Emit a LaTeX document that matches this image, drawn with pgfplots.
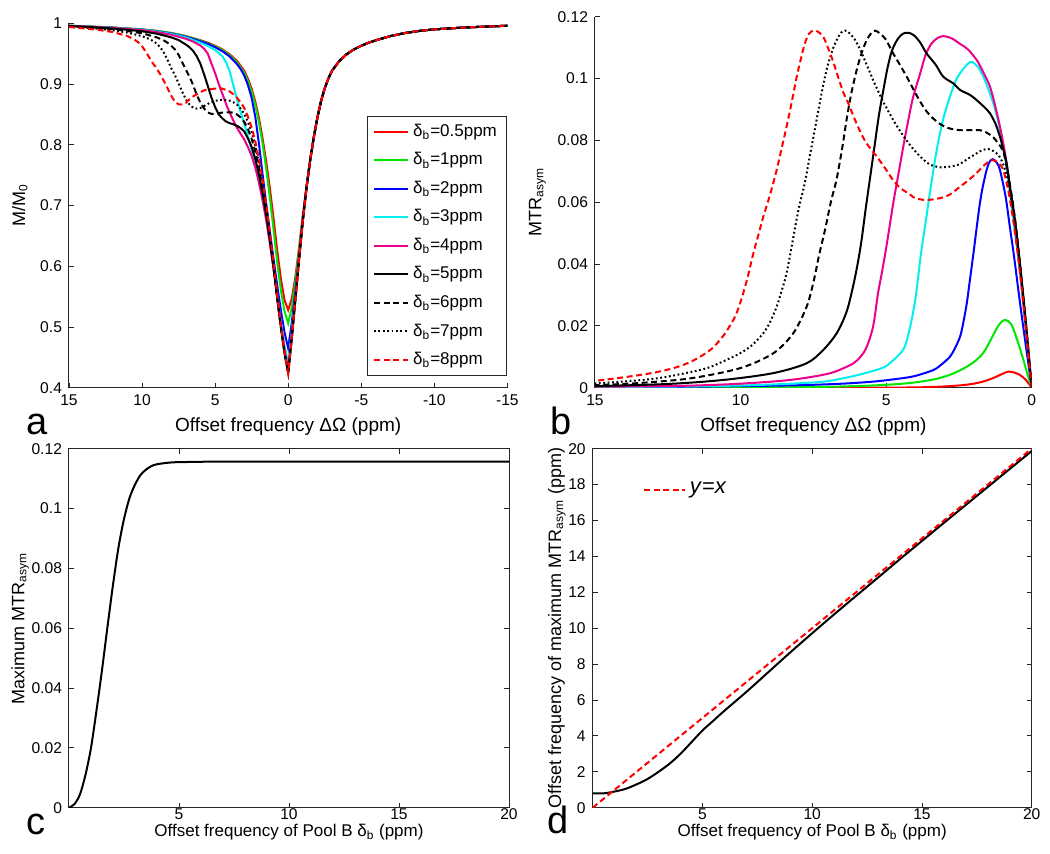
\documentclass[border=0pt]{standalone}
\usepackage{fontspec}
\setmainfont{Liberation Sans}
\usepackage{pgfplots}
\pgfplotsset{compat=1.18}
\definecolor{mgreen}{RGB}{0,230,0}
\definecolor{mcyan}{RGB}{0,240,240}
\begin{document}
\begin{tikzpicture}
\path[use as bounding box] (0,0) rectangle (525pt,427pt);
\pgfplotsset{
  every axis/.append style={
    scale only axis,
    anchor=south west,
    axis line style={line width=0.5pt, black!85},
    every tick/.style={black!85, line width=0.4pt},
    major tick length=2.5pt,
    tick label style={font=\fontsize{7.8}{9}\selectfont, /pgf/number format/assume math mode=true},
    label style={font=\fontsize{9}{11}\selectfont},
    scaled ticks=false,
    yticklabel style={/pgf/number format/fixed, /pgf/number format/precision=2},
  },
  every axis plot/.append style={line width=1pt},
  mdash/.style={dash pattern=on 3pt off 1.8pt},
  mdot/.style={dash pattern=on 0.9pt off 1.3pt},
}
% ---------------- panel a ----------------
\begin{axis}[at={(34.5pt,233.15pt)}, width=219.2pt, height=182.2pt,
  x dir=reverse, xmin=-15, xmax=15, ymin=0.4, ymax=1,
  xtick={-15,-10,-5,0,5,10,15}, ytick={0.4,0.5,0.6,0.7,0.8,0.9,1},
  axis x line*=bottom, axis y line*=left, tick align=inside,
  xlabel={Offset frequency ΔΩ (ppm)}, ylabel={M/M\textsubscript{0}},
  xlabel style={font=\fontsize{9.5}{11}\selectfont},
  xlabel shift=-1pt, ylabel shift=-0.5pt,
  legend style={at={(1,0.032)}, anchor=south east, font=\fontsize{8.5}{10}\selectfont,
    draw=black!85, line width=0.5pt, row sep=2.6pt},
  legend cell align=left]
\addplot[red] coordinates {(15,0.996) (14,0.995) (13,0.994) (12,0.993) (11,0.9915) (10,0.990) (9,0.9875) (8,0.984) (7,0.979) (6,0.972) (5.5,0.968) (5,0.963) (4.5,0.957) (4,0.9489) (3.5,0.938) (3,0.9216) (2.75,0.9084) (2.5,0.8922) (2.25,0.871) (2,0.8437) (1.75,0.8102) (1.5,0.7718) (1.25,0.7277) (1,0.6788) (0.75,0.6261) (0.5,0.5794) (0.25,0.544) (0,0.528) (-0.25,0.547) (-0.5,0.5839) (-0.75,0.6312) (-1,0.6833) (-1.25,0.7311) (-1.5,0.774) (-1.75,0.812) (-2,0.845) (-2.25,0.872) (-2.5,0.893) (-2.75,0.909) (-3,0.922) (-3.5,0.938) (-4,0.949) (-4.5,0.957) (-5,0.963) (-5.5,0.968) (-6,0.972) (-7,0.979) (-8,0.984) (-9,0.9875) (-10,0.990) (-11,0.9915) (-12,0.993) (-13,0.994) (-14,0.995) (-15,0.996)};
\addlegendentry{δ\textsubscript{b}=0.5ppm}
\addplot[mgreen] coordinates {(15,0.996) (14,0.995) (13,0.994) (12,0.993) (11,0.9915) (10,0.990) (9,0.9875) (8,0.984) (7,0.9787) (6,0.9715) (5,0.962) (4.5,0.9558) (4,0.9472) (3.5,0.9356) (3,0.9183) (2.75,0.9046) (2.5,0.8874) (2.25,0.8653) (2,0.8368) (1.75,0.8016) (1.5,0.7602) (1.25,0.712) (1,0.6604) (0.75,0.6063) (0.5,0.5607) (0.25,0.5255) (0,0.506) (-0.25,0.5333) (-0.5,0.5762) (-0.75,0.6273) (-1,0.6816) (-1.25,0.7305) (-1.5,0.774) (-1.75,0.812) (-2,0.845) (-2.25,0.872) (-2.5,0.893) (-2.75,0.909) (-3,0.922) (-3.5,0.938) (-4,0.949) (-4.5,0.957) (-5,0.963) (-5.5,0.968) (-6,0.972) (-7,0.979) (-8,0.984) (-9,0.9875) (-10,0.990) (-11,0.9915) (-12,0.993) (-13,0.994) (-14,0.995) (-15,0.996)};
\addlegendentry{δ\textsubscript{b}=1ppm}
\addplot[blue] coordinates {(15,0.9958) (14,0.9948) (13,0.9937) (12,0.9927) (11,0.991) (10,0.9895) (9,0.9866) (8,0.9832) (7,0.9779) (6,0.9704) (5.5,0.9661) (5,0.9606) (4.5,0.954) (4,0.9452) (3.5,0.9327) (3.25,0.9245) (3,0.9136) (2.75,0.898) (2.5,0.8773) (2.25,0.8458) (2,0.8015) (1.75,0.7509) (1.5,0.7023) (1.25,0.656) (1,0.6117) (0.75,0.5679) (0.5,0.5272) (0.25,0.491) (0,0.465) (-0.25,0.5079) (-0.5,0.5619) (-0.75,0.6199) (-1,0.6783) (-1.25,0.7292) (-1.5,0.774) (-1.75,0.812) (-2,0.845) (-2.25,0.872) (-2.5,0.893) (-2.75,0.909) (-3,0.922) (-3.5,0.938) (-4,0.949) (-4.5,0.957) (-5,0.963) (-5.5,0.968) (-6,0.972) (-7,0.979) (-8,0.984) (-9,0.9875) (-10,0.990) (-11,0.9915) (-12,0.993) (-13,0.994) (-14,0.995) (-15,0.996)};
\addlegendentry{δ\textsubscript{b}=2ppm}
\addplot[mcyan] coordinates {(15,0.9958) (14,0.9947) (13,0.9936) (12,0.9926) (11,0.9909) (10,0.9893) (9,0.9864) (8,0.9825) (7,0.9768) (6,0.9679) (5.5,0.9626) (5,0.9558) (4.75,0.951) (4.5,0.9455) (4.25,0.9358) (4,0.9206) (3.75,0.8973) (3.5,0.8752) (3.25,0.8535) (3,0.8339) (2.75,0.8134) (2.5,0.792) (2.25,0.7678) (2,0.7401) (1.75,0.7099) (1.5,0.6772) (1.25,0.639) (1,0.5974) (0.75,0.5522) (0.5,0.5082) (0.25,0.4689) (0,0.44) (-0.25,0.4924) (-0.5,0.5531) (-0.75,0.6154) (-1,0.6763) (-1.25,0.7285) (-1.5,0.774) (-1.75,0.812) (-2,0.845) (-2.25,0.872) (-2.5,0.893) (-2.75,0.909) (-3,0.922) (-3.5,0.938) (-4,0.949) (-4.5,0.957) (-5,0.963) (-5.5,0.968) (-6,0.972) (-7,0.979) (-8,0.984) (-9,0.9875) (-10,0.990) (-11,0.9915) (-12,0.993) (-13,0.994) (-14,0.995) (-15,0.996)};
\addlegendentry{δ\textsubscript{b}=3ppm}
\addplot[magenta] coordinates {(15,0.9957) (14,0.9946) (13,0.9935) (12,0.9924) (11,0.9906) (10,0.9887) (9,0.9856) (8,0.9811) (7,0.9745) (6.5,0.9697) (6,0.9632) (5.75,0.9581) (5.5,0.9497) (5.25,0.9336) (5,0.9178) (4.75,0.900) (4.5,0.8837) (4.25,0.867) (4,0.8527) (3.75,0.8397) (3.5,0.8277) (3.25,0.818) (3,0.8084) (2.75,0.796) (2.5,0.7816) (2.25,0.7622) (2,0.7377) (1.75,0.7084) (1.5,0.6752) (1.25,0.637) (1,0.5953) (0.75,0.5484) (0.5,0.503) (0.25,0.4614) (0,0.429) (-0.25,0.4856) (-0.5,0.5493) (-0.75,0.6134) (-1,0.6754) (-1.25,0.728) (-1.5,0.774) (-1.75,0.812) (-2,0.845) (-2.25,0.872) (-2.5,0.893) (-2.75,0.909) (-3,0.922) (-3.5,0.938) (-4,0.949) (-4.5,0.957) (-5,0.963) (-5.5,0.968) (-6,0.972) (-7,0.979) (-8,0.984) (-9,0.9875) (-10,0.990) (-11,0.9915) (-12,0.993) (-13,0.994) (-14,0.995) (-15,0.996)};
\addlegendentry{δ\textsubscript{b}=4ppm}
\addplot[black] coordinates {(15,0.9955) (14,0.9943) (13,0.993) (12,0.9914) (11,0.9893) (10,0.9868) (9,0.9829) (8,0.9768) (7.5,0.9724) (7,0.9649) (6.75,0.9605) (6.5,0.9543) (6.25,0.9454) (6,0.9329) (5.75,0.9155) (5.5,0.8967) (5.25,0.8775) (5,0.862) (4.75,0.850) (4.5,0.8432) (4.25,0.8382) (4,0.8355) (3.75,0.8336) (3.5,0.8312) (3.25,0.8273) (3,0.8217) (2.75,0.8102) (2.5,0.7963) (2.25,0.7767) (2,0.7512) (1.75,0.7202) (1.5,0.6846) (1.25,0.6425) (1,0.597) (0.75,0.5475) (0.5,0.4995) (0.25,0.4569) (0,0.424) (-0.25,0.4825) (-0.5,0.5475) (-0.75,0.6125) (-1,0.675) (-1.25,0.728) (-1.5,0.774) (-1.75,0.812) (-2,0.845) (-2.25,0.872) (-2.5,0.893) (-2.75,0.909) (-3,0.922) (-3.5,0.938) (-4,0.949) (-4.5,0.957) (-5,0.963) (-5.5,0.968) (-6,0.972) (-7,0.979) (-8,0.984) (-9,0.9875) (-10,0.990) (-11,0.9915) (-12,0.993) (-13,0.994) (-14,0.995) (-15,0.996)};
\addlegendentry{δ\textsubscript{b}=5ppm}
\addplot[black, mdash] coordinates {(15,0.9952) (14,0.9937) (13,0.9921) (12,0.9902) (11,0.9872) (10,0.9836) (9.5,0.9802) (9,0.9768) (8.75,0.9743) (8.5,0.9716) (8.25,0.9679) (8,0.9628) (7.75,0.9569) (7.5,0.948) (7.25,0.9355) (7,0.9235) (6.75,0.9119) (6.5,0.898) (6.25,0.8817) (6,0.8689) (5.75,0.8596) (5.5,0.8532) (5.25,0.8507) (5,0.8505) (4.75,0.852) (4.5,0.853) (4.25,0.8532) (4,0.8536) (3.75,0.8526) (3.5,0.8497) (3.25,0.8449) (3,0.8374) (2.75,0.8253) (2.5,0.8096) (2.25,0.7887) (2,0.7617) (1.75,0.7288) (1.5,0.6918) (1.25,0.6478) (1,0.5982) (0.75,0.5468) (0.5,0.4988) (0.25,0.4567) (0,0.424) (-0.25,0.4825) (-0.5,0.5475) (-0.75,0.6125) (-1,0.675) (-1.25,0.728) (-1.5,0.774) (-1.75,0.812) (-2,0.845) (-2.25,0.872) (-2.5,0.893) (-2.75,0.909) (-3,0.922) (-3.5,0.938) (-4,0.949) (-4.5,0.957) (-5,0.963) (-5.5,0.968) (-6,0.972) (-7,0.979) (-8,0.984) (-9,0.9875) (-10,0.990) (-11,0.9915) (-12,0.993) (-13,0.994) (-14,0.995) (-15,0.996)};
\addlegendentry{δ\textsubscript{b}=6ppm}
\addplot[black, mdot] coordinates {(15,0.9946) (14,0.993) (13,0.9911) (12,0.9885) (11,0.9846) (10,0.9788) (9.75,0.9765) (9.5,0.974) (9.25,0.9708) (9,0.9665) (8.75,0.9602) (8.5,0.9515) (8.25,0.9395) (8,0.926) (7.75,0.9145) (7.5,0.901) (7.25,0.887) (7,0.8747) (6.75,0.8662) (6.5,0.8609) (6.25,0.8595) (6,0.8607) (5.75,0.8638) (5.5,0.8673) (5.25,0.87) (5,0.8722) (4.75,0.8735) (4.5,0.8743) (4.25,0.8736) (4,0.8725) (3.75,0.8699) (3.5,0.8658) (3.25,0.8594) (3,0.8506) (2.75,0.8374) (2.5,0.8208) (2.25,0.7983) (2,0.7698) (1.75,0.7355) (1.5,0.6968) (1.25,0.6518) (1,0.6024) (0.75,0.5492) (0.5,0.5005) (0.25,0.4577) (0,0.424) (-0.25,0.4825) (-0.5,0.5475) (-0.75,0.6125) (-1,0.675) (-1.25,0.728) (-1.5,0.774) (-1.75,0.812) (-2,0.845) (-2.25,0.872) (-2.5,0.893) (-2.75,0.909) (-3,0.922) (-3.5,0.938) (-4,0.949) (-4.5,0.957) (-5,0.963) (-5.5,0.968) (-6,0.972) (-7,0.979) (-8,0.984) (-9,0.9875) (-10,0.990) (-11,0.9915) (-12,0.993) (-13,0.994) (-14,0.995) (-15,0.996)};
\addlegendentry{δ\textsubscript{b}=7ppm}
\addplot[red, mdash] coordinates {(15,0.9938) (14,0.9916) (13,0.9892) (12,0.9856) (11,0.979) (10.5,0.9728) (10.25,0.9685) (10,0.9621) (9.75,0.9534) (9.5,0.9433) (9.25,0.9338) (9,0.9255) (8.75,0.9158) (8.5,0.9047) (8.25,0.893) (8,0.8806) (7.75,0.8707) (7.5,0.8665) (7.25,0.8662) (7,0.869) (6.75,0.8749) (6.5,0.8797) (6.25,0.8832) (6,0.8869) (5.75,0.8896) (5.5,0.891) (5.25,0.8917) (5,0.8925) (4.75,0.893) (4.5,0.8925) (4.25,0.8901) (4,0.8877) (3.75,0.8831) (3.5,0.8772) (3.25,0.8698) (3,0.8602) (2.75,0.8461) (2.5,0.8283) (2.25,0.8055) (2,0.7763) (1.75,0.7412) (1.5,0.7012) (1.25,0.6548) (1,0.6043) (0.75,0.5518) (0.5,0.503) (0.25,0.459) (0,0.424) (-0.25,0.4825) (-0.5,0.5475) (-0.75,0.6125) (-1,0.675) (-1.25,0.728) (-1.5,0.774) (-1.75,0.812) (-2,0.845) (-2.25,0.872) (-2.5,0.893) (-2.75,0.909) (-3,0.922) (-3.5,0.938) (-4,0.949) (-4.5,0.957) (-5,0.963) (-5.5,0.968) (-6,0.972) (-7,0.979) (-8,0.984) (-9,0.9875) (-10,0.990) (-11,0.9915) (-12,0.993) (-13,0.994) (-14,0.995) (-15,0.996)};
\addlegendentry{δ\textsubscript{b}=8ppm}
\end{axis}
% ---------------- panel b ----------------
\begin{axis}[at={(297.5pt,233.15pt)}, width=218.35pt, height=185.5pt,
  x dir=reverse, xmin=0, xmax=15, ymin=0, ymax=0.12,
  xtick={0,5,10,15}, ytick={0,0.02,0.04,0.06,0.08,0.1,0.12},
  axis x line*=bottom, axis y line*=left, tick align=inside,
  xlabel={Offset frequency ΔΩ (ppm)}, ylabel={MTR\textsubscript{asym}},
  xlabel style={font=\fontsize{9.5}{11}\selectfont},
  xlabel shift=-1pt, ylabel shift=-1pt]
\addplot[red, smooth] coordinates {(0,0) (0.2,0.0025) (0.4,0.0041) (0.6,0.0049) (0.8,0.0052) (1.0,0.0045) (1.3,0.0032) (1.7,0.0019) (2.2,0.001) (3,0.0004) (4,0.0001) (6,0) (15,0)};
\addplot[mgreen, smooth] coordinates {(0,0) (0.15,0.0045) (0.3,0.0095) (0.5,0.0155) (0.7,0.0205) (0.9,0.0219) (1.05,0.0212) (1.2,0.0192) (1.35,0.0165) (1.5,0.0138) (1.7,0.0108) (2.0,0.0082) (2.3,0.0064) (2.8,0.0042) (3.4,0.0026) (4.3,0.0014) (5.5,0.0007) (7,0.0003) (9,0.0001) (15,0)};
\addplot[blue, smooth] coordinates {(0,0) (0.2,0.0135) (0.4,0.0273) (0.6,0.042) (0.75,0.052) (0.9,0.062) (1.09,0.0704) (1.2,0.0728) (1.34,0.0739) (1.45,0.073) (1.55,0.0704) (1.68,0.065) (1.78,0.0596) (1.9,0.051) (2.0,0.0435) (2.12,0.035) (2.23,0.0273) (2.35,0.021) (2.46,0.0165) (2.65,0.0125) (2.81,0.010) (3.1,0.0075) (3.38,0.0057) (4.0,0.0038) (4.5,0.003) (5.4,0.002) (6.5,0.0013) (8,0.0008) (10,0.0005) (12,0.0003) (15,0.0002)};
\addplot[mcyan, smooth] coordinates {(0,0) (0.15,0.014) (0.29,0.0273) (0.45,0.041) (0.63,0.0542) (0.8,0.067) (0.98,0.078) (1.15,0.086) (1.32,0.092) (1.5,0.0968) (1.66,0.1006) (1.85,0.1038) (2.06,0.1054) (2.2,0.1047) (2.4,0.1025) (2.6,0.0995) (2.81,0.0941) (3.05,0.0865) (3.25,0.0775) (3.45,0.066) (3.62,0.055) (3.8,0.0435) (4.0,0.0284) (4.2,0.0187) (4.4,0.0125) (4.8,0.0085) (5.1,0.0065) (5.8,0.0045) (6.5,0.003) (7.2,0.0019) (8.5,0.0012) (10,0.0007) (12,0.0004) (15,0.0002)};
\addplot[magenta, smooth] coordinates {(0,0) (0.15,0.015) (0.4,0.038) (0.58,0.053) (0.75,0.065) (0.92,0.076) (1.09,0.0844) (1.25,0.091) (1.43,0.0973) (1.66,0.102) (1.89,0.106) (2.2,0.1095) (2.46,0.1112) (2.75,0.1130) (3.04,0.1137) (3.25,0.1130) (3.45,0.1112) (3.65,0.1075) (3.85,0.101) (4.07,0.0941) (4.25,0.086) (4.41,0.078) (4.58,0.069) (4.75,0.06) (4.9,0.051) (5.02,0.044) (5.15,0.037) (5.28,0.0305) (5.45,0.0197) (5.7,0.0125) (6.0,0.0088) (6.3,0.007) (7.0,0.0045) (8.3,0.0025) (10,0.0013) (12,0.0006) (15,0.0003)};
\addplot[black, smooth] coordinates {(0,0) (0.15,0.016) (0.4,0.04) (0.6,0.056) (0.75,0.065) (0.86,0.0725) (1.0,0.078) (1.09,0.0812) (1.25,0.0855) (1.43,0.0887) (1.6,0.0905) (1.89,0.093) (2.12,0.0947) (2.46,0.0963) (2.69,0.0984) (3.04,0.1006) (3.3,0.1045) (3.61,0.1081) (3.84,0.1118) (4.05,0.114) (4.24,0.1148) (4.42,0.1145) (4.6,0.1128) (4.8,0.109) (4.95,0.1035) (5.1,0.096) (5.25,0.088) (5.4,0.078) (5.55,0.068) (5.7,0.058) (5.84,0.048) (5.96,0.041) (6.13,0.033) (6.36,0.0245) (6.7,0.0176) (7.16,0.0122) (7.73,0.0079) (8.88,0.0047) (10.59,0.0025) (12.5,0.0012) (15,0.0005)};
\addplot[black, mdash, smooth] coordinates {(0,0) (0.2,0.021) (0.4,0.04) (0.55,0.053) (0.7,0.063) (0.85,0.071) (0.98,0.0765) (1.15,0.079) (1.32,0.081) (1.55,0.0825) (1.78,0.0833) (2.1,0.0833) (2.46,0.0833) (2.8,0.0838) (3.1,0.085) (3.4,0.0872) (3.66,0.09) (3.95,0.0945) (4.23,0.0995) (4.5,0.104) (4.8,0.1088) (5.0,0.1125) (5.2,0.1145) (5.38,0.1155) (5.5,0.1148) (5.67,0.1124) (5.85,0.108) (6.01,0.1028) (6.2,0.095) (6.36,0.0866) (6.5,0.078) (6.7,0.0675) (6.9,0.06) (7.1,0.051) (7.3,0.043) (7.5,0.034) (7.73,0.0262) (8.19,0.0176) (8.88,0.0111) (10.02,0.0063) (11.74,0.003) (13.5,0.0015) (15,0.0008)};
\addplot[black, mdot, smooth] coordinates {(0,0) (0.2,0.02) (0.4,0.039) (0.6,0.055) (0.8,0.066) (0.95,0.0715) (1.09,0.0745) (1.25,0.0762) (1.49,0.0772) (1.7,0.0768) (1.89,0.0758) (2.2,0.074) (2.5,0.0722) (2.8,0.0715) (3.15,0.0713) (3.5,0.0722) (3.8,0.0745) (4.05,0.077) (4.3,0.08) (4.52,0.083) (4.75,0.0865) (5.1,0.0925) (5.4,0.0985) (5.67,0.1045) (5.9,0.1095) (6.1,0.113) (6.3,0.115) (6.42,0.1155) (6.55,0.1148) (6.7,0.1124) (6.85,0.109) (7.04,0.103) (7.2,0.096) (7.4,0.086) (7.6,0.076) (7.8,0.066) (8.0,0.058) (8.2,0.048) (8.42,0.037) (8.6,0.031) (8.76,0.0262) (9.0,0.021) (9.22,0.0176) (9.6,0.0138) (10.02,0.0111) (10.6,0.0085) (11.16,0.0063) (12,0.0045) (12.88,0.003) (14,0.002) (15,0.0014)};
\addplot[red, mdash, smooth] coordinates {(0,0) (0.2,0.019) (0.4,0.037) (0.6,0.052) (0.8,0.0635) (0.98,0.0704) (1.15,0.0728) (1.37,0.0736) (1.6,0.0722) (1.89,0.0695) (2.12,0.0675) (2.46,0.065) (2.81,0.0625) (3.1,0.0614) (3.61,0.0607) (4.0,0.0613) (4.18,0.0625) (4.5,0.0645) (4.75,0.067) (5.0,0.0705) (5.3,0.0745) (5.67,0.079) (5.9,0.083) (6.13,0.088) (6.3,0.092) (6.47,0.0955) (6.65,0.1005) (6.82,0.1055) (7.0,0.11) (7.16,0.1135) (7.35,0.1152) (7.5,0.1155) (7.65,0.1145) (7.79,0.1114) (7.95,0.1055) (8.07,0.1006) (8.25,0.092) (8.42,0.0844) (8.6,0.077) (8.76,0.0704) (9.0,0.062) (9.22,0.0553) (9.4,0.049) (9.56,0.0435) (9.75,0.036) (9.91,0.0305) (10.1,0.025) (10.25,0.0219) (10.5,0.018) (10.71,0.0154) (11.0,0.0125) (11.39,0.01) (11.8,0.008) (12.31,0.0063) (12.9,0.005) (13.46,0.0041) (14.3,0.003) (15,0.0022)};
\end{axis}
% ---------------- panel c ----------------
\begin{axis}[at={(34.5pt,23.15pt)}, width=220pt, height=179.5pt,
  xmin=0, xmax=20, ymin=0, ymax=0.12, tick align=inside,
  xtick={5,10,15,20}, ytick={0,0.02,0.04,0.06,0.08,0.1,0.12},
  xticklabel style={yshift=3pt},
  xlabel={Offset frequency of Pool B δ\textsubscript{b} (ppm)}, ylabel={Maximum MTR\textsubscript{asym}},
  xlabel style={font=\fontsize{8.5}{10}\selectfont},
  xlabel shift=-4.5pt, ylabel shift=-5.5pt]
\addplot[black, smooth] coordinates {(0,0) (0.25,0.0012) (0.5,0.0045) (0.75,0.011) (1.0,0.02) (1.25,0.0325) (1.5,0.046) (1.75,0.0605) (2.0,0.0745) (2.25,0.087) (2.5,0.0965) (2.75,0.1035) (3.0,0.108) (3.25,0.1112) (3.5,0.113) (3.75,0.1142) (4.0,0.1148) (4.5,0.1153) (5,0.1155) (7,0.1157) (10,0.1157) (15,0.1157) (20,0.1157)};
\end{axis}
% ---------------- panel d ----------------
\begin{axis}[at={(296.35pt,23.15pt)}, width=219.5pt, height=179.5pt,
  xmin=0, xmax=20, ymin=0, ymax=20, tick align=inside,
  xtick={5,10,15,20}, ytick={0,2,4,6,8,10,12,14,16,18,20},
  xticklabel style={yshift=3pt},
  xlabel={Offset frequency of Pool B δ\textsubscript{b} (ppm)},
  ylabel={Offset frequency of maximum MTR\textsubscript{asym} (ppm)},
  xlabel style={font=\fontsize{8.5}{10}\selectfont},
  xlabel shift=-4.5pt, ylabel shift=-5.5pt,
  legend style={at={(0.1,0.93)}, anchor=north west, draw=none, fill=none,
    font=\fontsize{11}{13}\selectfont},
  legend image post style={xscale=1.2}]
\addplot[black, smooth, forget plot] coordinates {(0,0.8) (0.5,0.8) (1,0.9) (1.5,1.05) (2,1.3) (2.5,1.6) (3,2.0) (3.5,2.45) (4,3.0) (4.5,3.65) (5,4.3) (5.5,4.85) (6,5.4) (7,6.45) (8,7.55) (9,8.65) (10,9.72) (11,10.77) (12,11.8) (13,12.82) (14,13.85) (15,14.86) (16,15.87) (17,16.87) (18,17.87) (19,18.87) (20,19.87)};
\addplot[red, mdash] coordinates {(0,0) (20,20)};
\addlegendentry{\textit{y}=\textit{x}}
\end{axis}
% panel letters
\node[font=\fontsize{19}{22}\selectfont, anchor=base, inner sep=0pt] at (18.5pt,209.5pt) {a};
\node[font=\fontsize{19}{22}\selectfont, anchor=base, inner sep=0pt] at (280.5pt,209.5pt) {b};
\node[font=\fontsize{19}{22}\selectfont, anchor=base, inner sep=0pt] at (17.75pt,9.5pt) {c};
\node[font=\fontsize{19}{22}\selectfont, anchor=base, inner sep=0pt] at (279pt,10pt) {d};
\end{tikzpicture}
\end{document}
